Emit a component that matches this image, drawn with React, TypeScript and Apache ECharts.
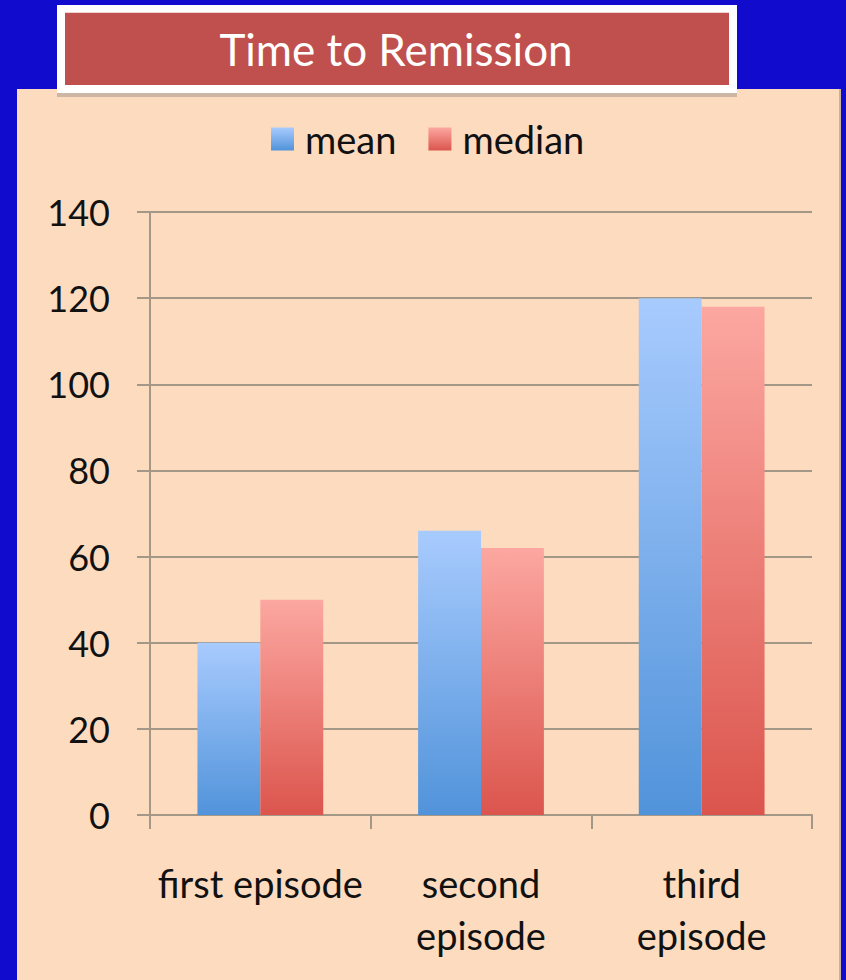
import React, { useEffect, useRef } from "react";
import * as echarts from "echarts";

const categories = ["first episode", "second\nepisode", "third\nepisode"];
const meanValues = [40, 66, 120];
const medianValues = [50, 62, 118];
const seriesNames = ["mean", "median"];
const yTicks = { min: 0, max: 140, interval: 20 };
const titleText = "Time to Remission";

const FONT = "Lato, 'Open Sans', sans-serif";
const GRID_COLOR = "#a39787";

function vGrad(top: string, bottom: string) {
  return new echarts.graphic.LinearGradient(0, 0, 0, 1, [
    { offset: 0, color: top },
    { offset: 1, color: bottom },
  ]);
}

export default function App() {
  const ref = useRef<HTMLDivElement>(null);

  useEffect(() => {
    document.body.style.margin = "0";
    if (!ref.current) return;
    const chart = echarts.init(ref.current, undefined, { renderer: "svg" });

    chart.setOption({
      animation: false,
      backgroundColor: "#110bcd",
      graphic: [
        // peach panel with a thin shadow on the right
        { type: "rect", shape: { x: 839, y: 89, width: 2, height: 891 }, style: { fill: "#c9b19e" }, z: -10 },
        { type: "rect", shape: { x: 17, y: 89, width: 822, height: 891 }, style: { fill: "#fddbbf" }, z: -10 },
        // title box
        { type: "rect", shape: { x: 57, y: 92, width: 680, height: 5 }, style: { fill: "#cdb6a4" }, z: 10 },
        { type: "rect", shape: { x: 57, y: 5, width: 680, height: 88 }, style: { fill: "#ffffff" }, z: 10 },
        { type: "rect", shape: { x: 65, y: 12.7, width: 664, height: 72.3 }, style: { fill: "#c0504d" }, z: 11 },
        {
          type: "text",
          x: 396,
          y: 49,
          z: 12,
          style: {
            text: titleText,
            fill: "#ffffff",
            font: `44px ${FONT}`,
            align: "center",
            verticalAlign: "middle",
          },
        },
      ],
      legend: {
        data: seriesNames,
        left: 266,
        top: 115,
        itemWidth: 23,
        itemHeight: 23,
        itemGap: 32,
        icon: "rect",
        textStyle: { fontFamily: FONT, fontSize: 38, color: "#111111", padding: [0, 0, 0, 6] },
      },
      grid: { left: 150, right: 34, top: 212, bottom: 165, containLabel: false },
      xAxis: {
        type: "category",
        data: categories,
        axisLine: { show: true, lineStyle: { color: GRID_COLOR, width: 2 } },
        axisTick: { show: true, length: 14, alignWithLabel: false, lineStyle: { color: GRID_COLOR, width: 2 } },
        axisLabel: {
          interval: 0,
          margin: 42,
          fontFamily: FONT,
          fontSize: 38,
          lineHeight: 52,
          color: "#111111",
        },
      },
      yAxis: {
        type: "value",
        min: yTicks.min,
        max: yTicks.max,
        interval: yTicks.interval,
        axisLine: { show: true, lineStyle: { color: GRID_COLOR, width: 2 } },
        axisTick: { show: true, length: 13, lineStyle: { color: GRID_COLOR, width: 2 } },
        splitLine: { show: true, lineStyle: { color: GRID_COLOR, width: 2 } },
        axisLabel: { margin: 40, fontFamily: FONT, fontSize: 36, color: "#111111" },
      },
      series: [
        {
          name: seriesNames[0],
          type: "bar",
          data: meanValues,
          barGap: "0%",
          barCategoryGap: "43%",
          itemStyle: { color: vGrad("#a8cbfe", "#5193da") },
        },
        {
          name: seriesNames[1],
          type: "bar",
          data: medianValues,
          barGap: "0%",
          barCategoryGap: "43%",
          itemStyle: { color: vGrad("#fca7a1", "#db554d") },
        },
      ],
    });

    return () => chart.dispose();
  }, []);

  return <div ref={ref} style={{ width: 846, height: 980 }} />;
}
